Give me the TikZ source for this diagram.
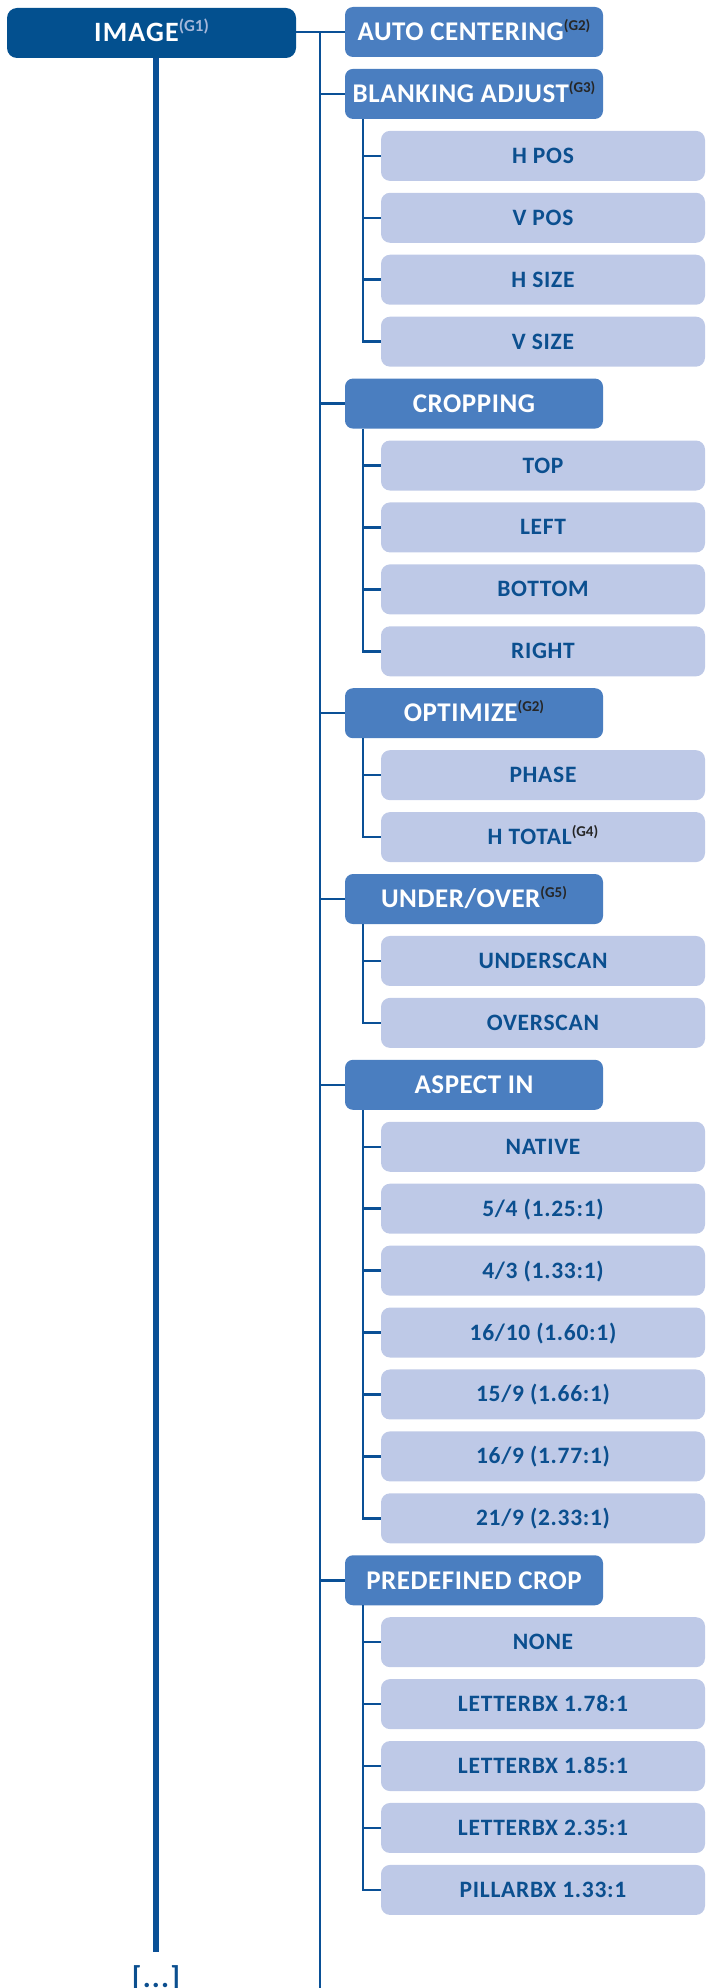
\documentclass[tikz,border=0pt]{standalone}
\usepackage{fontspec}
\setmainfont{Carlito}
\newfontfamily\onefont[LetterSpace=2]{Carlito}
\newfontfamily\twofont[LetterSpace=3]{Carlito}
\newfontfamily\imgfont[LetterSpace=4]{Carlito}
\newfontfamily\supfont{Carlito}
\definecolor{imgblue}{HTML}{03508F}
\definecolor{midblue}{HTML}{4A7EC0}
\definecolor{lightblue}{HTML}{BEC9E7}
\definecolor{lineblue}{HTML}{0A5096}
\definecolor{txtblue}{HTML}{0B4F8F}
\definecolor{supdark}{HTML}{262626}
\definecolor{suplight}{HTML}{A5B7DA}
\newcommand\gsup[1]{\raisebox{10pt}{\supfont\bfseries\fontsize{15}{15}\selectfont\color{supdark}(#1)}}
\newcommand\gsupt[1]{\raisebox{8pt}{\supfont\bfseries\fontsize{15}{15}\selectfont\color{supdark}(#1)}}
\newcommand\gsupl[1]{\raisebox{10pt}{\supfont\bfseries\fontsize{17}{17}\selectfont\color{suplight}(#1)}}
\begin{document}
\begin{tikzpicture}[x=1pt,y=-1pt,
  lvlzero/.style={fill=imgblue, rounded corners=10pt, minimum width=289pt, minimum height=50pt, inner sep=0pt, text=white, font=\imgfont\bfseries\fontsize{28}{28}\selectfont, text height=18pt, text depth=0pt},
  lvlone/.style={fill=midblue, rounded corners=8pt, minimum width=258pt, minimum height=50pt, inner sep=0pt, text=white, font=\onefont\bfseries\fontsize{27}{27}\selectfont, text height=17.5pt, text depth=0pt},
  lvltwo/.style={fill=lightblue, rounded corners=9pt, minimum width=324pt, minimum height=50pt, inner sep=0pt, text=txtblue, font=\twofont\bfseries\fontsize{23.5}{23.5}\selectfont, text height=15pt, text depth=0pt},
  conn/.style={draw=lineblue, line width=2.5pt},
  thickconn/.style={draw=lineblue, line width=5.5pt}
]
\useasboundingbox (0,0) rectangle (706,1988);
\def\P{61.93}
% level 0
\node[lvlzero] (img) at (151.5,33) {IMAGE\gsupl{G1}};
% level 1
\node[lvlone] (auto) at (474,32+\P*0) {AUTO CENTERING\gsup{G2}};
\node[lvlone] (blank) at (474,32+\P*1) {BLANKING ADJUST\gsup{G3}};
\node[lvlone] (crop) at (474,32+\P*6) {CROPPING};
\node[lvlone] (opt) at (474,32+\P*11) {OPTIMIZE\gsup{G2}};
\node[lvlone] (uo) at (474,32+\P*14) {UNDER/OVER\gsup{G5}};
\node[lvlone] (asp) at (474,32+\P*17) {ASPECT IN};
\node[lvlone] (pre) at (474,32+\P*25) {PREDEFINED CROP};
% level 2
\node[lvltwo] (hpos) at (543,32+\P*2) {H POS};
\node[lvltwo] (vpos) at (543,32+\P*3) {V POS};
\node[lvltwo] (hsize) at (543,32+\P*4) {H SIZE};
\node[lvltwo] (vsize) at (543,32+\P*5) {V SIZE};
\node[lvltwo] (top) at (543,32+\P*7) {TOP};
\node[lvltwo] (left) at (543,32+\P*8) {LEFT};
\node[lvltwo] (bottom) at (543,32+\P*9) {BOTTOM};
\node[lvltwo] (right) at (543,32+\P*10) {RIGHT};
\node[lvltwo] (phase) at (543,32+\P*12) {PHASE};
\node[lvltwo] (htot) at (543,32+\P*13) {H TOTAL\gsupt{G4}};
\node[lvltwo] (under) at (543,32+\P*15) {UNDERSCAN};
\node[lvltwo] (over) at (543,32+\P*16) {OVERSCAN};
\node[lvltwo] (nat) at (543,32+\P*18) {NATIVE};
\node[lvltwo] (a54) at (543,32+\P*19) {5/4 (1.25:1)};
\node[lvltwo] (a43) at (543,32+\P*20) {4/3 (1.33:1)};
\node[lvltwo] (a1610) at (543,32+\P*21) {16/10 (1.60:1)};
\node[lvltwo] (a159) at (543,32+\P*22) {15/9 (1.66:1)};
\node[lvltwo] (a169) at (543,32+\P*23) {16/9 (1.77:1)};
\node[lvltwo] (a219) at (543,32+\P*24) {21/9 (2.33:1)};
\node[lvltwo] (none) at (543,32+\P*26) {NONE};
\node[lvltwo] (l178) at (543,32+\P*27) {LETTERBX 1.78:1};
\node[lvltwo] (l185) at (543,32+\P*28) {LETTERBX 1.85:1};
\node[lvltwo] (l235) at (543,32+\P*29) {LETTERBX 2.35:1};
\node[lvltwo] (p133) at (543,32+\P*30) {PILLARBX 1.33:1};
% more
\node[font=\imgfont\bfseries\fontsize{30}{30}\selectfont, text=txtblue, anchor=base, inner sep=0pt] (more) at (156,1987) {[...]};
% coordinates
\coordinate (tx) at (320,0);
\coordinate (sx) at (363,0);
\coordinate (ix) at (156,0);
\coordinate (trbot) at (320,1988);
\coordinate (imgend) at (156,1952);
% connectors
\draw[conn] (img.east |- auto.west) -- (auto.west);
\draw[conn] (auto.west -| tx) -- (trbot);
\draw[thickconn] (img.south -| ix) -- (imgend);
\foreach \n in {blank,crop,opt,uo,asp,pre} {\draw[conn] (\n.west -| tx) -- (\n.west);}
\draw[conn] (blank.south -| sx) |- (vsize.west);
\draw[conn] (crop.south -| sx) |- (right.west);
\draw[conn] (opt.south -| sx) |- (htot.west);
\draw[conn] (uo.south -| sx) |- (over.west);
\draw[conn] (asp.south -| sx) |- (a219.west);
\draw[conn] (pre.south -| sx) |- (p133.west);
\foreach \n in {hpos,vpos,hsize,top,left,bottom,phase,under,nat,a54,a43,a1610,a159,a169,none,l178,l185,l235} {\draw[conn] (\n.west -| sx) -- (\n.west);}
\end{tikzpicture}
\end{document}
